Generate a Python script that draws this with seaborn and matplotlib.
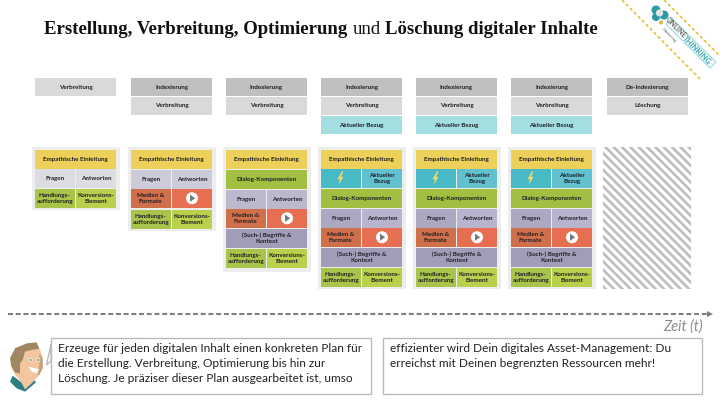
import matplotlib
matplotlib.use("Agg")
import matplotlib.pyplot as plt
from matplotlib.patches import Rectangle, Polygon, Circle
import seaborn as sns

sns.set_theme(style="white")
plt.rcParams["font.family"] = ["Lato", "DejaVu Sans"]
plt.rcParams["hatch.linewidth"] = 1.9
plt.rcParams["hatch.color"] = "#bdbdbd"

title_parts = [("Erstellung, Verbreitung, Optimierung ", "bold"), ("und ", "normal"),
               ("Löschung digitaler Inhalte", "bold")]

top_rows = [
    ["Verbreitung"],
    ["Indexierung", "Verbreitung"],
    ["Indexierung", "Verbreitung"],
    ["Indexierung", "Verbreitung", "Aktueller Bezug"],
    ["Indexierung", "Verbreitung", "Aktueller Bezug"],
    ["Indexierung", "Verbreitung", "Aktueller Bezug"],
    ["De-Indexierung", "Löschung"],
]
top_colors = {"Verbreitung": "#d9d9d9", "Löschung": "#d9d9d9", "Indexierung": "#bfbfbf",
              "De-Indexierung": "#bfbfbf", "Aktueller Bezug": "#a3dfe0"}

card_rows = [
    ["intro", "qa", "cta"],
    ["intro", "qa", "media", "cta"],
    ["intro", "dialog", "qa", "media", "terms", "cta"],
    ["intro", "news", "dialog", "qa", "media", "terms", "cta"],
    ["intro", "news", "dialog", "qa", "media", "terms", "cta"],
    ["intro", "news", "dialog", "qa", "media", "terms", "cta"],
]
qa_colors = [("#dcdce3", "#dcdce3"), ("#cccbd8", "#cccbd8"), ("#bcb9cd", "#bcb9cd"),
             ("#aba8c2", "#b8b4cd"), ("#aba8c2", "#b8b4cd"), ("#aba8c2", "#b8b4cd")]

full_rows = {
    "intro": ("Empathische Einleitung", "#ecd05a"),
    "dialog": ("Dialog-Komponenten", "#a2bf42"),
    "terms": ("(Such-) Begriffe &\nKontext", "#a19db8"),
}
split_rows = {
    "media": (("Medien &\nFormate", "#d0704a"), (None, "#e76f51")),
    "news": ((None, "#48bac5"), ("Aktueller\nBezug", "#62c1cf")),
    "cta": (("Handlungs-\naufforderung", "#a9c44a"), ("Konversions-\nElement", "#b9d04d")),
}

body_left = ["Erzeuge für jeden digitalen Inhalt einen konkreten Plan für",
             "die Erstellung. Verbreitung, Optimierung bis hin zur",
             "Löschung. Je präziser dieser Plan ausgearbeitet ist, umso"]
body_right = ["effizienter wird Dein digitales Asset-Management: Du",
              "erreichst mit Deinen begrenzten Ressourcen mehr!"]
time_x = [8, 708]
time_y = [314, 314]

# layout of the slide, in pixels
col_x = [35, 131, 226, 321, 416, 511, 607]
col_w = 81
card_tops = [
    [150, 169, 189],
    [150, 170, 189, 210],
    [150, 170, 190, 209, 229, 249],
    [150, 169, 189, 209, 228, 248, 268],
    [150, 169, 189, 209, 228, 248, 268],
    [150, 169, 189, 209, 228, 248, 268],
]
card_bottoms = [210, 231, 272, 289, 289, 289]
row_h = 18.5
text_c = "#1e1e26"

fig = plt.figure(figsize=(7.2, 4.05), dpi=100, facecolor="white")
ax = fig.add_axes([0, 0, 1, 1])


def cell(x, y, w, h, color, label=None):
    ax.add_patch(Rectangle((x, y), w, h, fc=color, ec="none"))
    if label:
        ax.text(x + w / 2, y + h / 2, label, ha="center", va="center", fontsize=4.5,
                fontweight="bold", color=text_c, linespacing=1.15)


def play(x, y):
    ax.add_patch(Circle((x, y), 6, fc="white", ec="none"))
    ax.add_patch(Polygon([(x - 2, y - 3.6), (x - 2, y + 3.6), (x + 3.2, y)], fc="#77777c", ec="none"))


def bolt(x, y):
    pts = [(1.5, -7), (-3, 1), (-0.5, 1), (-2, 7), (3, -1.5), (0.5, -1.5), (3, -7)]
    ax.add_patch(Polygon([(x + a, y + b) for a, b in pts], fc="#f0dc6a", ec="none"))


# timeline
sns.lineplot(x=time_x, y=time_y, ax=ax, color="#808080", linewidth=1.5, linestyle=(0, (2.4, 1.3)), legend=False)
ax.add_patch(Polygon([(707, 311), (707, 317), (713, 314)], fc="#808080", ec="none"))
ax.text(703, 327, "Zeit (t)", ha="right", va="center", fontsize=10.5, style="italic", color="#8c8c8c")

# top blocks
for x, rows in zip(col_x, top_rows):
    for i, name in enumerate(rows):
        cell(x, 78 + i * 19, col_w, 18, top_colors[name], name)

# cards
for c, (x, rows) in enumerate(zip(col_x, card_rows)):
    ax.add_patch(Rectangle((x - 3.5, 147), col_w + 7, card_bottoms[c] - 147, fc="#ededed", ec="none"))
    for key, y in zip(rows, card_tops[c]):
        if key in full_rows:
            label, color = full_rows[key]
            cell(x, y, col_w, row_h, color, label)
        else:
            if key == "qa":
                left = ("Fragen", qa_colors[c][0])
                right = ("Antworten", qa_colors[c][1])
            else:
                left, right = split_rows[key]
            cell(x, y, 39.5, row_h, left[1], left[0])
            cell(x + 41, y, 40, row_h, right[1], right[0])
            if key == "media":
                play(x + 61, y + row_h / 2)
            if key == "news":
                bolt(x + 19.5, y + row_h / 2)

# last column has no content any more
ax.add_patch(Rectangle((603, 147), 88, 142, fc="white", ec="#bdbdbd", lw=0, hatch="\\\\\\\\"))

# text boxes
ax.add_patch(Polygon([(51, 344), (46.5, 365), (51, 361)], fc="white", ec="#bbbbbb", lw=1))
ax.add_patch(Rectangle((51, 338), 319.5, 56, fc="white", ec="#bbbbbb", lw=1))
ax.add_patch(Rectangle((383, 338), 318.5, 56, fc="white", ec="#bbbbbb", lw=1))
for i, line in enumerate(body_left):
    ax.text(58, 349 + i * 14.5, line, va="center", ha="left", fontsize=8.6, color="#222222")
for i, line in enumerate(body_right):
    ax.text(390, 349 + i * 14.5, line, va="center", ha="left", fontsize=8.6, color="#222222")


def face(points, color):
    ax.add_patch(Polygon([(a / 3, 335 + b / 3) for a, b in points], fc=color, ec="none"))


face([(38, 122), (30, 140), (50, 160), (75, 170), (108, 142), (98, 130), (75, 150)], "#2d7d84")
face([(50, 50), (120, 42), (128, 70), (128, 100), (118, 120), (95, 145), (75, 163), (60, 135), (45, 120), (36, 100)], "#f3c6a0")
face([(118, 55), (128, 70), (128, 100), (118, 120), (112, 118), (118, 90)], "#c9a07c")
face([(30, 70), (45, 40), (80, 25), (110, 22), (118, 42), (95, 45), (75, 50), (68, 75), (60, 85), (60, 116), (45, 112), (34, 95)], "#a08762")
face([(85, 95), (118, 103), (110, 115), (95, 110)], "white")
for ex, ey in [(30.7, 360), (38.3, 360)]:
    ax.add_patch(Circle((ex, ey), 2, fc="#f5f0e8", ec="none"))
    ax.add_patch(Circle((ex, ey), 1.1, fc="#6f9a86", ec="none"))

# corner banner
ax.plot([622, 700], [0, 79], color="#e3c13c", lw=1.2, ls=(0, (2, 1.4)))
ax.plot([664, 720], [0, 56], color="#e3c13c", lw=1.2, ls=(0, (2, 1.4)))
ax.add_patch(Polygon([(672, 19), (716, 62), (710, 68), (666, 24)], fc="white", ec="#a9dfe0", lw=1))
ax.text(676, 28, "ONLINE", rotation=-45, rotation_mode="anchor", ha="center", va="center",
        fontsize=5, fontweight="bold", color="#666666")
ax.text(697, 50.5, "THINKING", rotation=-45, rotation_mode="anchor", ha="center", va="center",
        fontsize=5.4, fontweight="bold", color="#2fa6ad")
ax.text(669, 35, "Marketing", rotation=-45, rotation_mode="anchor", ha="center", va="center",
        fontsize=3, fontweight="bold", color="#888888")
ax.add_patch(Circle((656, 10), 4.5, fc="#2b9aa3", ec="none"))
ax.add_patch(Circle((664, 15), 4.5, fc="#2b9aa3", ec="none"))
ax.add_patch(Circle((656, 17), 4, fc="#2b9aa3", ec="none"))
ax.add_patch(Circle((661, 22.5), 2, fc="#d8b93a", ec="none"))
ax.add_patch(Circle((659.5, 13), 3.6, fc="#e6e6e6", ec="none"))

ax.set_xlim(0, 720)
ax.set_ylim(405, 0)
ax.set_axis_off()

# title pieces with mixed weight
r = fig.canvas.get_renderer()
xpos = 44
for part, weight in title_parts:
    t = ax.text(xpos, 30, part.rstrip(), ha="left", va="center", fontsize=13.5, fontweight=weight,
                family="Liberation Serif", color="#111111")
    xpos += t.get_window_extent(r).width + 5

fig.savefig("out.png", dpi=100)
